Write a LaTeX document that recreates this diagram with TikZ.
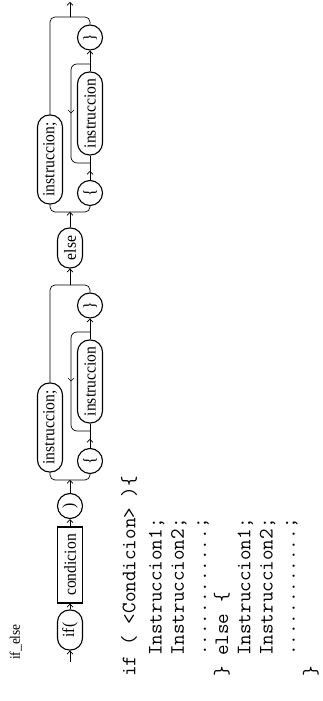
\documentclass[tikz,border=0pt]{standalone}
\usepackage{fontspec}
\newfontfamily\labelfont[FakeStretch=0.92]{Liberation Serif}
\usetikzlibrary{arrows.meta, decorations.markings}

\begin{document}
\begin{tikzpicture}[
  x=1pt, y=1pt,
  font=\labelfont\fontsize{17}{19}\selectfont,
  conn/.style={line width=0.7pt},
  arr/.style={conn, -{Straight Barb[length=3pt, width=6pt]}},
  tipat/.style={conn, postaction={decorate}, decoration={markings,
      mark=at position #1 with {\arrow{Straight Barb[length=3pt, width=6pt]}}}},
  term/.style={draw, line width=1.1pt, rounded corners=12pt,
               minimum height=25pt, inner sep=2pt},
  nonterm/.style={draw, line width=1.1pt, minimum height=25pt, inner sep=2pt},
  sym/.style={draw, circle, line width=1.1pt, minimum size=25pt, inner sep=0pt}
]
\begin{scope}[rotate=90, transform shape]
\useasboundingbox (0,-323) rectangle (701,0);

\node[anchor=base west, inner sep=0pt, font=\labelfont\fontsize{14.5}{16}\selectfont]
  (ttl) at (41,-20) {if\_else};

% main line
\coordinate (ini) at (39,-70);
\node[term, minimum width=40pt] (ifp) at (71,-70) {if(};
\node[nonterm, minimum width=76pt] (cond) at (136,-70) {condicion};
\node[sym] (cpar) at (195,-70) {)};
\coordinate (sp1) at (221,-70);

% first block
\node[term, minimum width=89pt] (ib1) at (273.5,-50) {instruccion;};
\node[sym] (lb1) at (240,-90) {\{};
\node[term, minimum width=83pt] (in1) at (319.5,-90) {instruccion};
\node[sym] (rb1) at (395.5,-90) {\}};
\coordinate (li1) at (270,-90);
\coordinate (lo1) at (369,-90);
\coordinate (jn1) at (416,-70);

\node[term, minimum width=40pt] (els) at (453,-70) {else};
\coordinate (sp2) at (489,-70);

% second block
\node[term, minimum width=89pt] (ib2) at (541.5,-50) {instruccion;};
\node[sym] (lb2) at (508,-90) {\{};
\node[term, minimum width=83pt] (in2) at (587.5,-90) {instruccion};
\node[sym] (rb2) at (663.5,-90) {\}};
\coordinate (li2) at (538,-90);
\coordinate (lo2) at (637,-90);
\coordinate (jn2) at (684,-70);
\coordinate (fin) at (699,-70);

\draw[arr] (ini) -- (ifp);
\draw[arr] (ifp) -- (cond);
\draw[arr] (cond) -- (cpar);
\draw[arr] (cpar) -- (sp1);

\draw[conn, rounded corners=5pt] (sp1) |- (ib1);
\draw[conn, rounded corners=5pt] (sp1) |- (lb1);
\draw[tipat=9pt] (lb1) -- (in1);
\draw[arr] (in1) -- (rb1);
\draw[tipat=0.5, rounded corners=6pt] (lo1) -- ++(0,19) -| (li1);
\draw[conn, rounded corners=5pt] (ib1) -| (jn1);
\draw[conn, rounded corners=5pt] (rb1) -| (jn1);

\draw[arr] (jn1) -- (els);
\draw[arr] (els) -- (sp2);

\draw[conn, rounded corners=5pt] (sp2) |- (ib2);
\draw[conn, rounded corners=5pt] (sp2) |- (lb2);
\draw[tipat=9pt] (lb2) -- (in2);
\draw[arr] (in2) -- (rb2);
\draw[tipat=0.5, rounded corners=6pt] (lo2) -- ++(0,19) -| (li2);
\draw[conn, rounded corners=5pt] (ib2) -| (jn2);
\draw[conn, rounded corners=5pt] (rb2) -| (jn2);
\draw[arr] (jn2) -- (fin);

% code
\node[anchor=north west, inner sep=0pt, align=left,
      font=\ttfamily\fontsize{20.5}{22.2}\selectfont] (code) at (24,-121)
  {if ( <Condicion> )\{\\[4pt]
   \hphantom{xx}Instruccion1;\\
   \hphantom{xx}Instruccion2;\\
   \hphantom{xx}............;\\
   \} else \{\\
   \hphantom{xx}Instruccion1;\\
   \hphantom{xx}Instruccion2;\\
   \hphantom{xx}............;\\
   \}};
\end{scope}
\end{tikzpicture}
\end{document}
